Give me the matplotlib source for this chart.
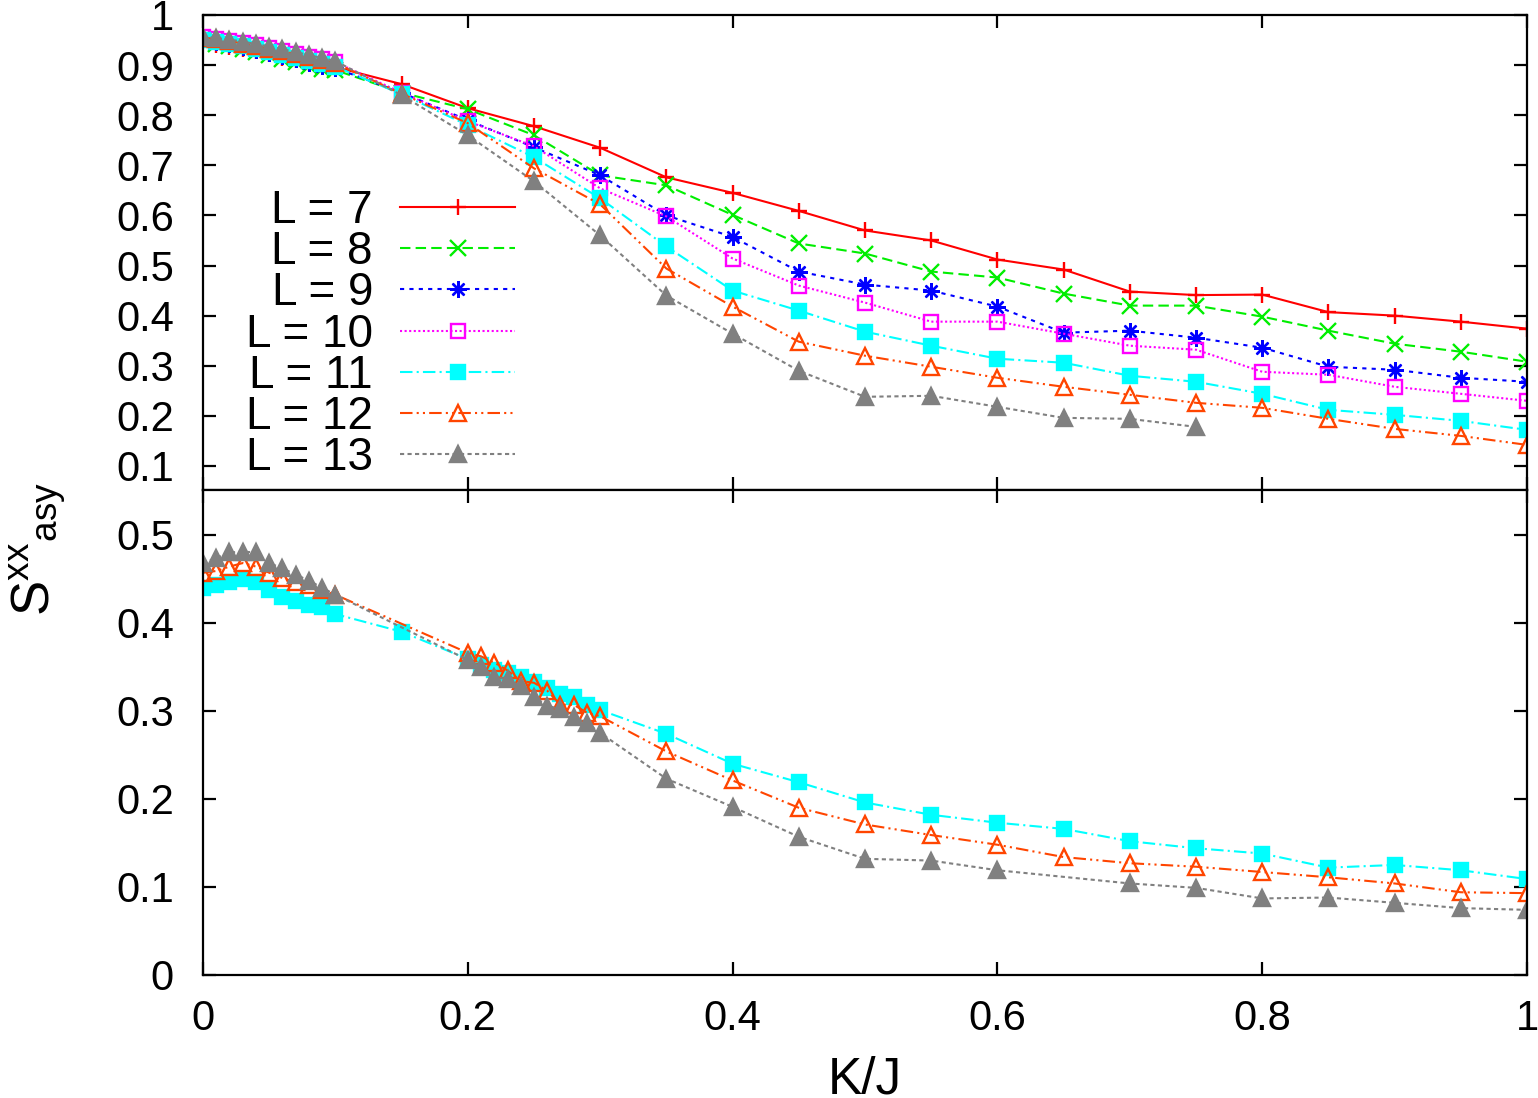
import matplotlib
matplotlib.use('Agg')
import matplotlib.pyplot as plt

plt.rcParams['font.family'] = ['Liberation Sans', 'DejaVu Sans']
plt.rcParams['mathtext.default'] = 'regular'

# ---------------- data ----------------
labels = ['L = 7', 'L = 8', 'L = 9', 'L = 10', 'L = 11', 'L = 12', 'L = 13']

x_top = [0.0, 0.01, 0.02, 0.03, 0.04, 0.05, 0.06, 0.07, 0.08, 0.09, 0.10,
         0.15, 0.20, 0.25, 0.30, 0.35, 0.40, 0.45, 0.50, 0.55, 0.60, 0.65,
         0.70, 0.75, 0.80, 0.85, 0.90, 0.95, 1.00]
x_top13 = x_top[:24]

top_L7 = [0.950, 0.940, 0.937, 0.933, 0.928, 0.922, 0.915, 0.910, 0.905, 0.900, 0.896,
          0.862, 0.814, 0.778, 0.735, 0.676, 0.645, 0.609, 0.570, 0.550, 0.512, 0.492,
          0.448, 0.441, 0.442, 0.407, 0.400, 0.388, 0.374]
top_L8 = [0.948, 0.942, 0.938, 0.932, 0.926, 0.920, 0.913, 0.906, 0.899, 0.893, 0.890,
          0.845, 0.812, 0.760, 0.680, 0.660, 0.601, 0.544, 0.524, 0.488, 0.476, 0.444,
          0.420, 0.420, 0.398, 0.370, 0.344, 0.328, 0.308]
top_L9 = [0.952, 0.947, 0.942, 0.937, 0.931, 0.925, 0.918, 0.912, 0.905, 0.899, 0.894,
          0.845, 0.790, 0.736, 0.680, 0.600, 0.557, 0.488, 0.462, 0.450, 0.418, 0.366,
          0.370, 0.356, 0.336, 0.298, 0.292, 0.276, 0.268]
top_L10 = [0.956, 0.953, 0.949, 0.945, 0.940, 0.935, 0.929, 0.923, 0.917, 0.912, 0.906,
           0.845, 0.788, 0.738, 0.654, 0.598, 0.514, 0.460, 0.426, 0.388, 0.388, 0.364,
           0.340, 0.332, 0.288, 0.282, 0.258, 0.244, 0.230]
top_L11 = [0.950, 0.947, 0.943, 0.938, 0.933, 0.927, 0.921, 0.915, 0.909, 0.903, 0.897,
           0.842, 0.780, 0.716, 0.634, 0.538, 0.450, 0.410, 0.368, 0.340, 0.314, 0.306,
           0.280, 0.268, 0.244, 0.212, 0.202, 0.190, 0.172]
top_L12 = [0.955, 0.952, 0.948, 0.943, 0.938, 0.933, 0.928, 0.922, 0.916, 0.910, 0.904,
           0.843, 0.784, 0.694, 0.622, 0.494, 0.418, 0.348, 0.320, 0.298, 0.276, 0.258,
           0.242, 0.226, 0.216, 0.194, 0.174, 0.160, 0.142]
top_L13 = [0.957, 0.954, 0.951, 0.947, 0.942, 0.937, 0.932, 0.926, 0.920, 0.914, 0.908,
           0.840, 0.760, 0.668, 0.560, 0.440, 0.364, 0.290, 0.238, 0.240, 0.218, 0.196,
           0.194, 0.178]

x_bot11 = [0.0, 0.01, 0.02, 0.03, 0.04, 0.05, 0.06, 0.07, 0.08, 0.09, 0.10,
           0.15,
           0.20, 0.21, 0.22, 0.23, 0.24, 0.25, 0.26, 0.27, 0.28, 0.29, 0.30,
           0.35, 0.40, 0.45, 0.50, 0.55, 0.60, 0.65, 0.70, 0.75, 0.80, 0.85, 0.90, 0.95, 1.00]
bot_L11 = [0.440, 0.443, 0.447, 0.450, 0.447, 0.437, 0.430, 0.425, 0.420, 0.418, 0.410,
           0.390,
           0.359, 0.352, 0.347, 0.343, 0.339, 0.333, 0.326, 0.319, 0.316, 0.307, 0.301,
           0.274, 0.240, 0.219, 0.196, 0.182, 0.173, 0.166, 0.152, 0.144, 0.138, 0.122,
           0.125, 0.119, 0.109]

x_bot12 = [0.0, 0.01, 0.02, 0.03, 0.04, 0.05, 0.06, 0.07, 0.08, 0.09, 0.10,
           0.20, 0.21, 0.22, 0.23, 0.24, 0.25, 0.26, 0.27, 0.28, 0.29, 0.30,
           0.35, 0.40, 0.45, 0.50, 0.55, 0.60, 0.65, 0.70, 0.75, 0.80, 0.85, 0.90, 0.95, 1.00]
bot_L12 = [0.457, 0.459, 0.464, 0.468, 0.464, 0.457, 0.451, 0.446, 0.443, 0.437, 0.432,
           0.366, 0.362, 0.355, 0.346, 0.334, 0.332, 0.323, 0.307, 0.307, 0.298, 0.294,
           0.254, 0.221, 0.190, 0.171, 0.159, 0.148, 0.134, 0.127, 0.123, 0.117, 0.111,
           0.104, 0.094, 0.093]

x_bot13 = [0.0, 0.01, 0.02, 0.03, 0.04, 0.05, 0.06, 0.07, 0.08, 0.09, 0.10,
           0.20, 0.21, 0.22, 0.23, 0.24, 0.25, 0.26, 0.27, 0.28, 0.29, 0.30,
           0.35, 0.40, 0.45, 0.50, 0.55, 0.60, 0.70, 0.75, 0.80, 0.85, 0.90, 0.95, 1.00]
bot_L13 = [0.468, 0.474, 0.480, 0.481, 0.480, 0.468, 0.462, 0.455, 0.448, 0.440, 0.432,
           0.358, 0.350, 0.339, 0.336, 0.328, 0.316, 0.306, 0.302, 0.293, 0.286, 0.275,
           0.223, 0.191, 0.157, 0.132, 0.130, 0.119, 0.104, 0.099, 0.087, 0.088, 0.082,
           0.076, 0.074]

x_ticks = [0, 0.2, 0.4, 0.6, 0.8, 1.0]
x_ticklabels = ['0', '0.2', '0.4', '0.6', '0.8', '1']
top_yticks = [0.1, 0.2, 0.3, 0.4, 0.5, 0.6, 0.7, 0.8, 0.9, 1.0]
top_yticklabels = ['0.1', '0.2', '0.3', '0.4', '0.5', '0.6', '0.7', '0.8', '0.9', '1']
bot_yticks = [0, 0.1, 0.2, 0.3, 0.4, 0.5]
bot_yticklabels = ['0', '0.1', '0.2', '0.3', '0.4', '0.5']

# ---------------- styles ----------------
colors = ['#ff0000', '#00ee00', '#0000ff', '#ff00ff', '#00ffff', '#ff4500', '#808080']
dashes = [(None), (5, 2.5), (2, 2.5), (1, 1.2), (6, 2, 1, 2), (6, 2, 1, 2, 1, 2), (2, 1.6)]
markers = ['+', 'x', (8, 2, 0), 's', 's', '^', '^']
filled = [True, True, True, False, True, False, True]
msizes = [12, 12, 12, 10.5, 10.5, 11, 11]


def style(i):
    kw = dict(color=colors[i], lw=1.5, marker=markers[i], ms=msizes[i], mew=1.7,
              label=labels[i])
    kw['mfc'] = colors[i] if filled[i] else 'none'
    kw['mec'] = colors[i]
    return kw


fig = plt.figure(figsize=(15.38, 10.98), dpi=100)
Lf, Rf = 203 / 1538, 1527 / 1538
Tf, Mf, Bf = 1 - 15 / 1098, 1 - 490 / 1098, 1 - 975 / 1098
ax1 = fig.add_axes([Lf, Mf, Rf - Lf, Tf - Mf])
ax2 = fig.add_axes([Lf, Bf, Rf - Lf, Mf - Bf])

top_series = [(x_top, top_L7), (x_top, top_L8), (x_top, top_L9), (x_top, top_L10),
              (x_top, top_L11), (x_top, top_L12), (x_top13, top_L13)]
for i, (xs, ys) in enumerate(top_series):
    ln, = ax1.plot(xs, ys, **style(i))
    if dashes[i] is not None:
        ln.set_dashes(dashes[i])

bot_series = [(4, x_bot11, bot_L11), (5, x_bot12, bot_L12), (6, x_bot13, bot_L13)]
for i, xs, ys in bot_series:
    kw = style(i)
    kw.pop('label')
    ln, = ax2.plot(xs, ys, **kw)
    ln.set_dashes(dashes[i])

for ax in (ax1, ax2):
    ax.set_xlim(0, 1)
    ax.set_xticks(x_ticks)
    ax.tick_params(direction='in', length=9.5, width=1.6, top=True, right=True,
                   labelsize=30)
    ax.tick_params(axis='y', pad=21)
    ax.tick_params(axis='x', pad=17)
    for s in ax.spines.values():
        s.set_linewidth(1.6)

ax1.set_ylim(0.052, 1.0)
ax1.set_yticks(top_yticks)
ax1.set_yticklabels(top_yticklabels)
ax1.tick_params(labelbottom=False)

ax2.set_ylim(0, 0.551)
ax2.set_yticks(bot_yticks)
ax2.set_yticklabels(bot_yticklabels)
ax2.set_xticklabels(x_ticklabels)

leg = ax1.legend(loc='upper right', bbox_to_anchor=(0.2357, 0.634), frameon=False,
                 markerfirst=False, fontsize=33, handlelength=2.5, handletextpad=0.6,
                 labelspacing=-0.06, borderpad=0, borderaxespad=0, numpoints=1)

fig.text(0.025, 0.5, r'$S^{xx}{}_{asy}$', rotation=90, fontsize=38,
         ha='center', va='center')
fig.text(865 / 1538, 1 - 1094 / 1098, 'K/J', fontsize=37, ha='center', va='baseline')

fig.savefig('out.png', dpi=100)
